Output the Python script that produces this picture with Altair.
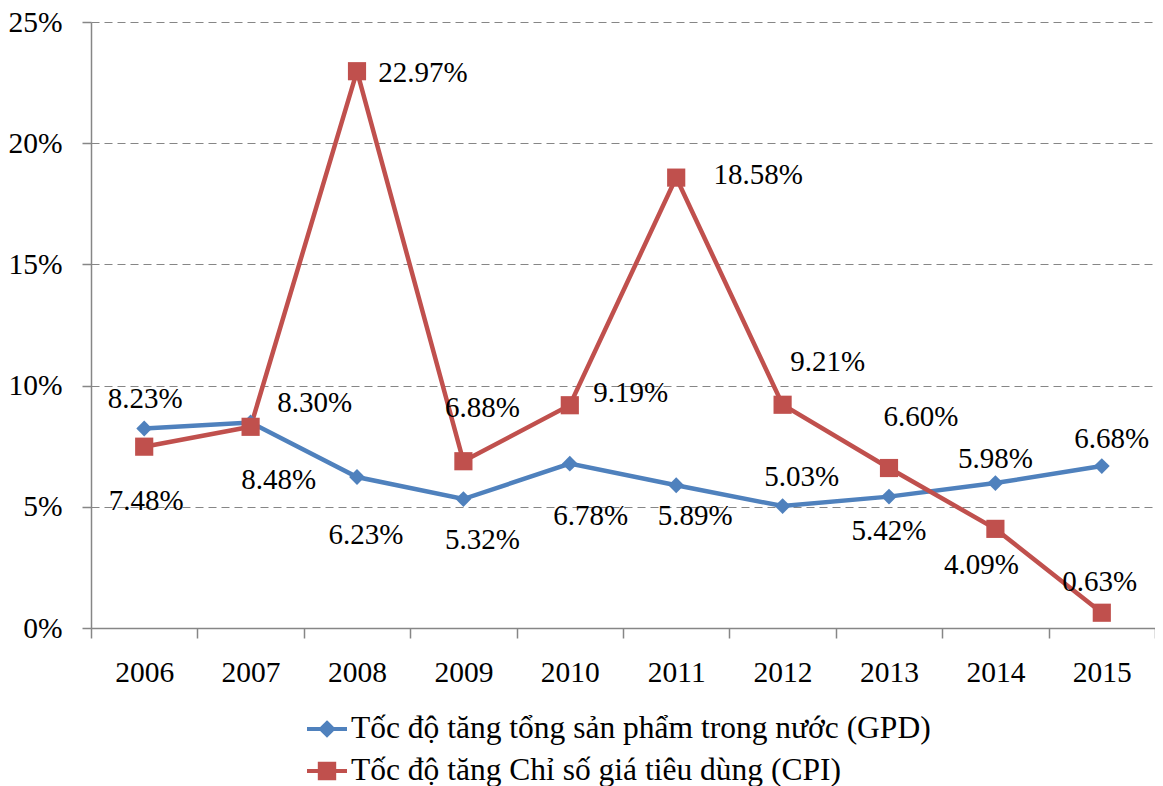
import altair as alt
import pandas as pd

years = ["2006", "2007", "2008", "2009", "2010", "2011", "2012", "2013", "2014", "2015"]
gdp = [8.23, 8.48, 6.23, 5.32, 6.78, 5.89, 5.03, 5.42, 5.98, 6.68]
cpi = [7.48, 8.30, 22.97, 6.88, 9.19, 18.58, 9.21, 6.60, 4.09, 0.63]
gdp_name = "Tốc độ tăng tổng sản phẩm trong nước (GPD)"
cpi_name = "Tốc độ tăng Chỉ số giá tiêu dùng (CPI)"
series_names = [gdp_name, cpi_name]
y_ticks = [0, 5, 10, 15, 20, 25]

# label nudges (pixels) for the data labels
gdp_dx = [1, 28, 9, 19, 21, 19, 19, 0, 0, 10]
gdp_dy = [-30, 58, 58, 41, 52, 31, -29, 34, -24, -27]
cpi_dx = [2, 64, 66, 19, 61, 82, 45, 32, -14, -2]
cpi_dy = [54, -24, 2, -53, -12, -3, -43, -51, 36, -31]

W, H = 1064, 606
rows = []
for i, y in enumerate(years):
    rows.append({"year": y, "idx": i, "series": gdp_name, "value": gdp[i], "dx": gdp_dx[i], "dy": gdp_dy[i],
                 "label": f"{gdp[i]:.2f}%"})
for i, y in enumerate(years):
    rows.append({"year": y, "idx": i, "series": cpi_name, "value": cpi[i], "dx": cpi_dx[i], "dy": cpi_dy[i],
                 "label": f"{cpi[i]:.2f}%"})
df = pd.DataFrame(rows)

FONT = "'Times New Roman', 'Liberation Serif', serif"
BLUE = "#4F81BD"
RED = "#C0504D"
GRAY = "#868686"

x_enc = alt.X("year:O", sort=years, title=None,
              scale=alt.Scale(type="band", paddingInner=0, paddingOuter=0),
              axis=alt.Axis(labelAngle=0, labelFont=FONT, labelFontSize=29.5, labelColor="black",
                            labelPadding=20, tickBand="extent", tickSize=10, tickColor=GRAY,
                            tickWidth=1.5, domainColor=GRAY, domainWidth=1.5, grid=False))
y_enc = alt.Y("value:Q", title=None,
              scale=alt.Scale(domain=[0, 25], nice=False),
              axis=alt.Axis(values=y_ticks, labelExpr="datum.value + '%'", labelFont=FONT,
                            labelFontSize=29.5, labelColor="black", labelPadding=20, tickSize=9,
                            tickColor=GRAY, tickWidth=1.5, domainColor=GRAY, domainWidth=1.5,
                            grid=True, gridColor=GRAY, gridDash=[8, 5], gridWidth=1.2))

legend = alt.Legend(title=None, orient="none", legendX=214, legendY=685, direction="vertical",
                    labelFont=FONT, labelFontSize=31.5, labelColor="black", labelLimit=0,
                    labelOffset=2, rowPadding=4, padding=0, symbolSize=1600,
                    symbolStrokeWidth=4, symbolOpacity=1)

leg_paths = ["M-1,0H1M0,-0.3L0.3,0L0,0.3L-0.3,0Z",
             "M-1,0H1M-0.36,-0.36H0.36V0.36H-0.36Z"]

base = alt.Chart(df)
lines = base.mark_line(strokeWidth=4.5).encode(
    x=x_enc, y=y_enc,
    stroke=alt.Stroke("series:N", scale=alt.Scale(domain=series_names, range=[BLUE, RED]), legend=legend),
    detail="series:N")
pts_gdp = base.transform_filter(alt.datum.series == gdp_name).mark_point(
    filled=True, opacity=1, shape="diamond", size=250, color=BLUE).encode(x=x_enc, y=y_enc)
pts_cpi = base.transform_filter(alt.datum.series == cpi_name).mark_point(
    filled=True, opacity=1, shape="square", size=330, color=RED).encode(x=x_enc, y=y_enc)
leg_layer = base.transform_filter("false").mark_point(filled=False, strokeWidth=4, opacity=1).encode(
    x=x_enc, y=y_enc,
    stroke=alt.Stroke("series:N", scale=alt.Scale(domain=series_names, range=[BLUE, RED]), legend=legend),
    fill=alt.Fill("series:N", scale=alt.Scale(domain=series_names, range=[BLUE, RED]), legend=legend),
    shape=alt.Shape("series:N", scale=alt.Scale(domain=series_names, range=leg_paths), legend=legend))
labels = base.transform_calculate(
    lx=f"datum.idx + 0.5 + datum.dx * {len(years)} / {W}",
    ly=f"datum.value - datum.dy * 25 / {H}",
).mark_text(font=FONT, fontSize=29, color="black", align="center", baseline="middle").encode(
    x=alt.X("lx:Q", scale=alt.Scale(domain=[0, len(years)], nice=False, zero=False), axis=None),
    y=alt.Y("ly:Q", scale=alt.Scale(domain=[0, 25], nice=False), axis=None),
    text="label:N")

chart = alt.layer(alt.layer(lines, pts_gdp, pts_cpi, leg_layer), labels).resolve_scale(
    x="independent", y="independent"
).properties(
    width=W, height=H,
    autosize=alt.AutoSizeParams(type="none"),
    padding={"left": 83, "top": 14, "right": 0, "bottom": 160},
).configure_view(stroke=None)

chart.save("out.html", embed_options={"renderer": "svg", "actions": False})
